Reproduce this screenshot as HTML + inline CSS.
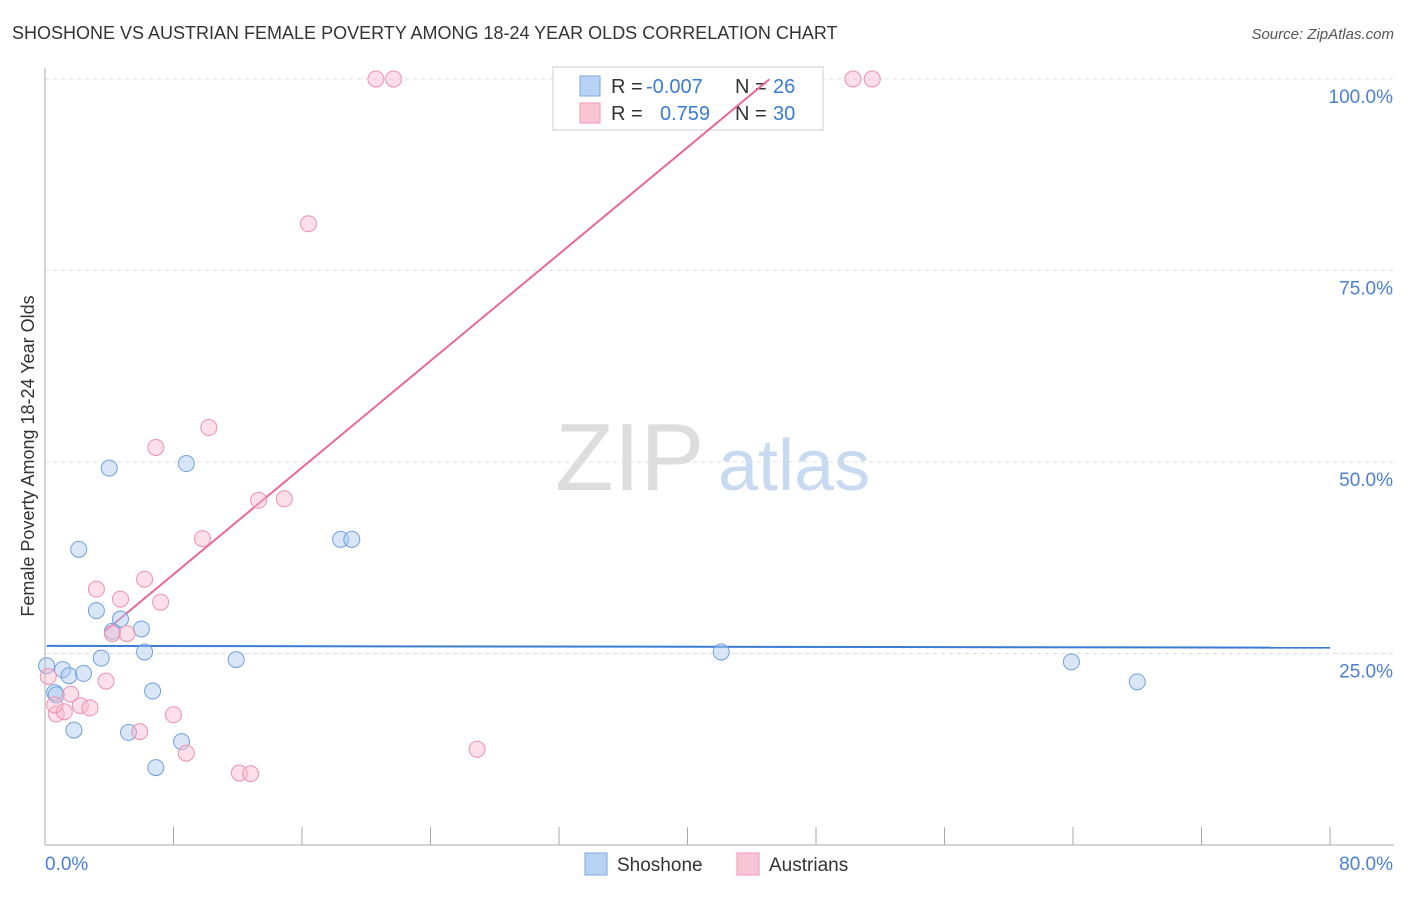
<!DOCTYPE html>
<html><head><meta charset="utf-8"><style>
body{margin:0;background:#fff;font-family:"Liberation Sans",sans-serif;}
svg text{font-family:"Liberation Sans",sans-serif;}
</style></head><body>
<svg id="chart" width="1406" height="892">
<text x="12" y="39" font-size="18" fill="#333">SHOSHONE VS AUSTRIAN FEMALE POVERTY AMONG 18-24 YEAR OLDS CORRELATION CHART</text>
<text x="1394" y="39" font-size="15" fill="#555" font-style="italic" text-anchor="end">Source: ZipAtlas.com</text>
<text x="34" y="456" font-size="18" fill="#333" text-anchor="middle" transform="rotate(-90 34 456)">Female Poverty Among 18-24 Year Olds</text>
<g><text x="555" y="490" font-size="96" fill="#ddd" font-family="Liberation Serif,serif">ZIP</text><text x="718" y="490" font-size="72" fill="#c8daf2">atlas</text></g>
<g id="grid"></g><g id="axes"></g>
<g>
<rect x="553" y="67" width="270" height="63" fill="#fff" stroke="#ccc"/>
<rect x="580" y="76" width="20" height="20" fill="#b8d2f4" stroke="#7aa6e0"/>
<text x="611" y="93" font-size="20" fill="#333">R = </text><text x="646" y="93" font-size="20" fill="#3a7bd5">-0.007</text>
<text x="735" y="93" font-size="20" fill="#333">N = </text><text x="773" y="93" font-size="20" fill="#3a7bd5">26</text>
<rect x="580" y="103" width="20" height="20" fill="#f9c4d4" stroke="#ee9ab6"/>
<text x="611" y="120" font-size="20" fill="#333">R = </text><text x="660" y="120" font-size="20" fill="#3a7bd5">0.759</text>
<text x="735" y="120" font-size="20" fill="#333">N = </text><text x="773" y="120" font-size="20" fill="#3a7bd5">30</text>
</g>
<g id="trend"></g><g id="pts"></g>
<g>
<rect x="585" y="853" width="22" height="22" fill="#b8d2f4" stroke="#7aa6e0"/><text x="617" y="871" font-size="19" fill="#333">Shoshone</text>
<rect x="737" y="853" width="22" height="22" fill="#f9c4d4" stroke="#ee9ab6"/><text x="769" y="871" font-size="19" fill="#333">Austrians</text>
</g>
<text x="45" y="870" font-size="19" fill="#4a7fd4">0.0%</text>
<text x="1393" y="870" font-size="19" fill="#4a7fd4" text-anchor="end">80.0%</text>
</svg>
<script>
const yTicks=[25,50,75,100];
const yTickLabels=["25.0%","50.0%","75.0%","100.0%"];
const shoshoneX=[0.1,1.1,1.5,0.6,2.4,2.1,3.2,3.5,4.0,4.2,4.7,6.0,6.2,6.7,1.8,5.2,6.9,8.5,8.8,11.9,18.4,19.1,42.1,63.9,68.0,0.7];
const shoshoneY=[23.4,22.9,22.1,19.9,22.4,38.6,30.6,24.4,49.2,27.9,29.5,28.2,25.2,20.1,15.0,14.7,10.1,13.5,49.8,24.2,39.9,39.9,25.2,23.9,21.3,19.6];
const austrianX=[0.2,0.7,1.2,1.6,2.2,2.8,3.2,4.7,4.2,5.1,6.2,7.2,3.8,5.9,8.0,8.8,6.9,10.2,9.8,13.3,14.9,12.1,12.8,16.4,20.6,21.7,26.9,50.3,51.5,0.6];
const austrianY=[22.0,17.1,17.4,19.7,18.2,17.9,33.4,32.1,27.6,27.6,34.7,31.7,21.4,14.8,17.0,12.0,51.9,54.5,40.0,45.0,45.2,9.4,9.3,81.1,100,100,12.5,100,100,18.3];
const trendSlope=[-0.003,1.742];
const trendIntercept=[26.0,21.4];
const trendStart=[0.1,3.7];
const trendEnd=[80,45.1];
const L=45,R=1330,T=79,B=845;
const sx=v=>L+v/80*(R-L);
const sy=v=>B-v/100*(B-T);
const NS="http://www.w3.org/2000/svg";
function mk(t,a,p){const e=document.createElementNS(NS,t);for(const k in a)e.setAttribute(k,a[k]);p.appendChild(e);return e;}
const grid=document.getElementById('grid'),axes=document.getElementById('axes');
yTicks.forEach((t,i)=>{
const l=mk('line',{x1:L,x2:1394,y1:sy(t),y2:sy(t),stroke:'#ddd','stroke-dasharray':'4 4'},grid);


const tx=mk('text',{x:1393,y:sy(t)+24,'font-size':19,fill:'#4a7fd4','text-anchor':'end'},grid);
tx.textContent=yTickLabels[i];


});
const ya=mk('line',{x1:L,x2:L,y1:68,y2:B,stroke:'#aaa'},axes);


const xa=mk('line',{x1:L,x2:1394,y1:B,y2:B,stroke:'#aaa'},axes);


for(let i=0;i<=10;i++){const tk=mk('line',{x1:sx(i*8),x2:sx(i*8),y1:B,y2:B-18,stroke:'#aaa'},axes);

}
const tr=document.getElementById('trend');const cols=['#3a7bd5','#e8679a'];
for(let i=0;i<2;i++){
const x1=trendStart[i],x2=trendEnd[i];
const ln=mk('line',{x1:sx(x1),x2:sx(x2),y1:sy(trendIntercept[i]+trendSlope[i]*x1),y2:sy(trendIntercept[i]+trendSlope[i]*x2),stroke:cols[i],'stroke-width':2},tr);


}
const pts=document.getElementById('pts');
function dots(xs,ys,fill,stroke,name){xs.forEach((x,i)=>{
const c=mk('circle',{cx:sx(x),cy:sy(ys[i]),r:8,fill:fill,'fill-opacity':0.45,stroke:stroke,'stroke-width':1},pts);


});}
dots(shoshoneX,shoshoneY,'#a8c8f0','#6fa0e0','shoshone-point');
dots(austrianX,austrianY,'#f8b8cc','#f090b0','austrians-point');
</script>
</body></html>
